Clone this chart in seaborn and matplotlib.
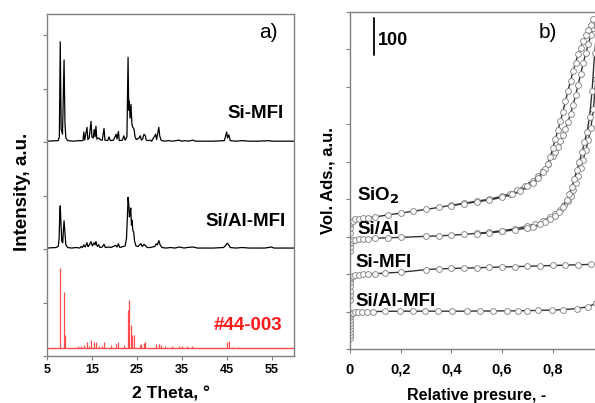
import numpy as np
import pandas as pd
import matplotlib
matplotlib.use("Agg")
import matplotlib.pyplot as plt
import seaborn as sns

# ---------------- Panel a data (2 theta, intensity above baseline) ----------------
si_mfi_2t = [5.0, 7.5, 7.75, 7.95, 8.15, 8.45, 8.8, 9.0, 9.2, 9.6, 11.0, 12.0, 13.0, 13.2, 13.4, 13.9, 14.1, 14.4,
             14.8, 15.0, 15.3, 15.5, 15.7, 15.9, 16.1, 16.5, 17.0, 17.3, 17.7, 17.9, 18.5, 18.8, 19.1, 19.8,
             20.4, 20.6, 20.9, 21.1, 21.8, 22.1, 22.4, 22.8, 23.05, 23.2, 23.3, 23.5, 23.7, 23.9, 24.0, 24.4,
             24.6, 24.9, 25.5, 25.8, 26.0, 26.3, 26.6, 26.9, 27.1, 27.5, 28.0, 28.3, 29.2, 29.4, 29.9, 30.1,
             30.4, 31.0, 32.0, 33.0, 34.4, 35.0, 35.7, 36.5, 37.5, 38.0, 40.0, 42.0, 44.5, 45.0, 45.2, 45.5,
             45.8, 47.0, 48.5, 50.0, 52.0, 54.5, 55.0, 57.0, 60.0]
si_mfi_int = [0.02, 0.03, 0.10, 1.88, 0.25, 0.15, 1.54, 0.35, 0.08, 0.03, 0.02, 0.03, 0.03, 0.19, 0.04, 0.28, 0.05, 0.08,
              0.39, 0.10, 0.08, 0.24, 0.10, 0.30, 0.06, 0.08, 0.04, 0.04, 0.26, 0.04, 0.03, 0.10, 0.03, 0.04,
              0.15, 0.06, 0.20, 0.03, 0.04, 0.12, 0.04, 0.10, 1.59, 0.60, 0.77, 0.45, 0.71, 0.35, 0.30, 0.24,
              0.10, 0.05, 0.08, 0.12, 0.04, 0.06, 0.15, 0.12, 0.04, 0.03, 0.04, 0.02, 0.15, 0.05, 0.28, 0.12,
              0.04, 0.02, 0.03, 0.02, 0.04, 0.02, 0.03, 0.02, 0.04, 0.02, 0.02, 0.02, 0.03, 0.19, 0.08, 0.14,
              0.03, 0.02, 0.03, 0.02, 0.02, 0.03, 0.02, 0.02, 0.02]

sial_mfi_2t = [5.0, 7.0, 7.5, 7.7, 7.85, 7.95, 8.1, 8.3, 8.5, 8.65, 8.8, 8.95, 9.2, 9.6, 10.5, 11.5, 12.3, 12.6,
               12.9, 13.2, 13.5, 13.9, 14.1, 14.3, 14.8, 15.1, 15.5, 15.7, 15.9, 16.2, 16.5, 16.8, 17.3, 17.7,
               18.0, 18.8, 19.2, 20.3, 20.6, 20.9, 21.2, 22.0, 22.4, 22.7, 22.9, 23.05, 23.2, 23.35, 23.5, 23.65,
               23.8, 23.95, 24.1, 24.3, 24.5, 24.8, 25.3, 25.6, 25.9, 26.2, 26.6, 26.9, 27.3, 28.0, 29.0, 29.3,
               29.6, 29.9, 30.2, 30.6, 31.5, 32.5, 33.5, 34.5, 35.5, 36.2, 37.5, 38.5, 40.0, 42.0, 44.3, 44.8,
               45.1, 45.4, 45.8, 47.0, 48.5, 50.0, 52.0, 53.5, 55.0, 55.5, 57.5, 60.0]
sial_mfi_int = [0.02, 0.03, 0.05, 0.20, 0.70, 0.81, 0.50, 0.15, 0.12, 0.35, 0.53, 0.35, 0.08, 0.03, 0.02, 0.03, 0.02, 0.05,
                0.03, 0.08, 0.04, 0.12, 0.05, 0.06, 0.14, 0.06, 0.12, 0.08, 0.14, 0.05, 0.08, 0.03, 0.04, 0.09,
                0.03, 0.04, 0.03, 0.07, 0.04, 0.10, 0.03, 0.05, 0.06, 0.20, 0.60, 0.97, 0.85, 0.60, 0.68, 0.77,
                0.45, 0.54, 0.35, 0.32, 0.15, 0.06, 0.05, 0.08, 0.10, 0.05, 0.09, 0.07, 0.03, 0.03, 0.05, 0.10,
                0.08, 0.16, 0.08, 0.03, 0.02, 0.03, 0.02, 0.04, 0.02, 0.03, 0.04, 0.02, 0.02, 0.02, 0.03, 0.07,
                0.11, 0.09, 0.03, 0.02, 0.03, 0.02, 0.02, 0.02, 0.04, 0.02, 0.02, 0.02]

ref_2t = [7.95, 8.85, 9.05, 11.9, 12.5, 13.2, 13.9, 14.3, 14.8, 15.5, 15.9, 16.5, 17.3, 17.8, 19.2, 20.4, 20.9,
          22.2, 23.1, 23.3, 23.7, 23.9, 24.4, 25.6, 25.9, 26.6, 26.9, 29.3, 29.9, 30.3, 31.2, 32.8, 34.4, 35.1,
          36.1, 37.2, 45.0, 45.5, 46.5, 47.5]
ref_int = [1.50, 1.05, 0.24, 0.03, 0.03, 0.06, 0.12, 0.04, 0.15, 0.11, 0.11, 0.04, 0.04, 0.11, 0.05, 0.07, 0.12,
           0.05, 0.71, 0.89, 0.43, 0.24, 0.24, 0.06, 0.07, 0.09, 0.12, 0.08, 0.08, 0.05, 0.03, 0.03, 0.03, 0.03,
           0.03, 0.03, 0.12, 0.13, 0.02, 0.02]

xrd_offsets = {"Si-MFI": 4.0, "Si/Al-MFI": 2.0, "#44-003": 0.15}
xrd_xticks = [5, 15, 25, 35, 45, 55]

# ---------------- Panel b data (relative pressure, volume adsorbed) ----------------
sio2_ads_p = [0, 0, 0, 0.005, 0.01, 0.02, 0.035, 0.05, 0.07, 0.1, 0.15, 0.2, 0.25, 0.3, 0.35, 0.4, 0.45, 0.5, 0.55,
              0.6, 0.63, 0.66, 0.69, 0.72, 0.74, 0.76, 0.78, 0.8, 0.81, 0.82, 0.83, 0.84, 0.85, 0.86, 0.87, 0.88,
              0.89, 0.9, 0.91, 0.92, 0.93, 0.94, 0.95, 0.96, 0.97]
sio2_ads_v = [309, 322, 334, 340, 343, 346, 348, 349, 351, 353, 358, 363, 368, 373, 378, 384, 389, 395, 400,
              408, 415, 424, 436, 450, 462, 476, 494, 515, 527, 540, 556, 572, 588, 606, 628, 652,
              678, 705, 735, 763, 790, 815, 838, 858, 876]
sio2_des_p = [0.96, 0.95, 0.94, 0.93, 0.92, 0.91, 0.9, 0.89, 0.88, 0.87, 0.86, 0.85, 0.84, 0.83, 0.82, 0.81, 0.8,
              0.79, 0.78, 0.77, 0.76, 0.74, 0.72, 0.7, 0.67, 0.64, 0.6, 0.55, 0.5, 0.45, 0.4]
sio2_des_v = [880, 866, 852, 838, 822, 805, 787, 765, 742, 716, 690, 662, 634, 608, 584, 560, 537,
              512, 495, 482, 472, 456, 444, 434, 422, 413, 405, 398, 393, 388, 383]

sial_ads_p = [0, 0, 0, 0.005, 0.01, 0.02, 0.035, 0.05, 0.07, 0.1, 0.15, 0.2, 0.3, 0.35, 0.4, 0.45, 0.5, 0.55, 0.6,
              0.65, 0.7, 0.73, 0.76, 0.79, 0.81, 0.83, 0.845, 0.86, 0.87, 0.88, 0.89, 0.9, 0.91, 0.92, 0.93,
              0.94, 0.95, 0.96, 0.97, 0.98]
sial_ads_v = [262, 272, 282, 287, 290, 292, 293, 294, 295, 296, 297, 298, 301, 302, 304, 306, 309, 312, 316,
              321, 328, 334, 342, 352, 361, 372, 384, 396, 408, 424, 442, 462, 484, 506, 531,
              558, 590, 640, 720, 820]
sial_des_p = [0.975, 0.965, 0.955, 0.945, 0.935, 0.925, 0.915, 0.905, 0.895, 0.885, 0.875, 0.865, 0.855, 0.84,
              0.825, 0.81, 0.79, 0.77, 0.75, 0.72, 0.7, 0.65, 0.6, 0.55, 0.5]
sial_des_v = [860, 790, 690, 620, 580, 552, 526, 500, 477, 455, 432, 414, 398, 380,
              366, 355, 346, 338, 333, 327, 323, 318, 314, 310, 308]

simfi_p = [0, 0, 0, 0, 0, 0, 0.002, 0.01, 0.02, 0.035, 0.05, 0.07, 0.1, 0.14, 0.2, 0.3, 0.35, 0.4, 0.45, 0.5,
           0.55, 0.6, 0.65, 0.7, 0.75, 0.8, 0.85, 0.9, 0.95, 0.99]
simfi_v = [131, 143, 155, 167, 178, 188, 193, 196, 197, 198, 199, 200, 201, 203, 205, 212, 214, 215, 216, 217,
           218, 219, 220, 221, 222, 223, 224, 225, 226, 227]

sialmfi_p = [0, 0, 0, 0, 0, 0, 0, 0, 0.001, 0.005, 0.01, 0.02, 0.03, 0.047, 0.067, 0.09, 0.138, 0.197, 0.25,
             0.296, 0.347, 0.402, 0.46, 0.513, 0.564, 0.619, 0.662, 0.698, 0.742, 0.797, 0.84, 0.895, 0.939,
             0.97, 0.99]
sialmfi_v = [29, 37, 45, 53, 61, 69, 77, 85, 92, 95, 97, 98, 99, 99.5, 100, 100, 100.5, 101, 101,
             101, 101, 101, 101, 101.5, 101.5, 102, 102, 102.5, 103, 104, 105, 108, 113,
             122, 140]

iso_xticks = [0, 0.2, 0.4, 0.6, 0.8, 1.0]
iso_xticklabels = ["0", "0,2", "0,4", "0,6", "0,8", ""]

# ---------------- Style ----------------
sns.set_theme(style="white")
plt.rcParams["font.family"] = ["Liberation Sans", "DejaVu Sans"]
plt.rcParams["font.weight"] = "bold"
plt.rcParams["text.color"] = "black"
plt.rcParams["axes.labelcolor"] = "black"
plt.rcParams["xtick.color"] = "black"
plt.rcParams["ytick.color"] = "black"
spine_col = "#808080"

fig = plt.figure(figsize=(5.95, 4.03), dpi=100)
axa = fig.add_axes([47 / 595, 1 - 356 / 403, 247 / 595, 342 / 403])
axb = fig.add_axes([350 / 595, 1 - 349 / 403, 253.5 / 595, 337 / 403])

# ---- panel a ----
for name, xs, ys in [("Si-MFI", si_mfi_2t, si_mfi_int), ("Si/Al-MFI", sial_mfi_2t, sial_mfi_int)]:
    df = pd.DataFrame({"2t": xs, "I": np.array(ys) + xrd_offsets[name]})
    sns.lineplot(data=df, x="2t", y="I", ax=axa, color="black", lw=0.9, sort=False, estimator=None)

base = xrd_offsets["#44-003"]
axa.vlines(ref_2t, base, base + np.array(ref_int), color="#ff4d4d", lw=0.9)
axa.axhline(base, color="#ff4d4d", lw=1.0)

axa.set_xlim(5, 60)
axa.set_ylim(0, 6.4)
axa.set_xticks(xrd_xticks)
axa.set_xticklabels([str(t) for t in xrd_xticks], fontsize=9, fontweight="bold")
axa.set_yticks([0, 1, 2, 3, 4, 5, 6])
axa.set_yticklabels([])
axa.set_xlabel("2 Theta, \u00b0", fontsize=12.5, fontweight="bold", labelpad=7)
axa.set_ylabel("Intensity, a.u.", fontsize=13.5, fontweight="bold", labelpad=3)
axa.yaxis.set_label_coords(-0.065, 0.48)
axa.text(0.895, 0.947, "a)", transform=axa.transAxes, ha="center", va="center", fontsize=15, fontweight="normal")
axa.text(0.96, 0.71, "Si-MFI", transform=axa.transAxes, ha="right", va="center", fontsize=13.5, fontweight="bold")
axa.text(0.968, 0.392, "Si/Al-MFI", transform=axa.transAxes, ha="right", va="center", fontsize=13.5,
         fontweight="bold")
axa.text(0.951, 0.088, "#44-003", transform=axa.transAxes, ha="right", va="center", fontsize=13.5,
         fontweight="bold", color="#ff1a1a")

# ---- panel b ----
iso_sets = [(sio2_ads_p, sio2_ads_v), (sio2_des_p, sio2_des_v), (sial_ads_p, sial_ads_v), (sial_des_p, sial_des_v),
            (simfi_p, simfi_v), (sialmfi_p, sialmfi_v)]
for ps, vs in iso_sets:
    df = pd.DataFrame({"p": ps, "v": vs})
    sns.lineplot(data=df, x="p", y="v", ax=axb, color="#333333", lw=1.0, sort=False, estimator=None,
                 marker="o", markersize=4.2, markerfacecolor="white", markeredgecolor="#8c8c8c",
                 markeredgewidth=0.7)

axb.set_xlim(0, 1.0)
axb.set_ylim(0, 900)
axb.set_xticks(iso_xticks)
axb.set_xticklabels(iso_xticklabels, fontsize=10.5, fontweight="bold")
axb.set_yticks(np.arange(0, 901, 100))
axb.set_yticklabels([])
axb.set_xlabel("Relative presure, -", fontsize=11.5, fontweight="bold", labelpad=8)
axb.set_ylabel("Vol. Ads., a.u.", fontsize=12, fontweight="bold", labelpad=4)
axb.plot([0.095, 0.095], [785, 885], color="black", lw=1.3)
axb.text(0.11, 824, "100", ha="left", va="center", fontsize=13, fontweight="bold")
axb.text(0.781, 0.938, "b)", transform=axb.transAxes, ha="center", va="center", fontsize=15, fontweight="normal")
axb.text(0.028, 410, "SiO$_\\mathbf{2}$", ha="left", va="center", fontsize=13.5, fontweight="bold")
axb.text(0.028, 320, "Si/Al", ha="left", va="center", fontsize=13.5, fontweight="bold")
axb.text(0.02, 232, "Si-MFI", ha="left", va="center", fontsize=13.5, fontweight="bold")
axb.text(0.02, 128, "Si/Al-MFI", ha="left", va="center", fontsize=13.5, fontweight="bold")

for ax in (axa, axb):
    for sp in ax.spines.values():
        sp.set_color(spine_col)
        sp.set_linewidth(1.0)
        sp.set_visible(True)
    ax.tick_params(axis="both", direction="out", length=3, width=0.8, color=spine_col,
                   bottom=True, left=True, labelcolor="black")
axa.tick_params(axis="x", pad=3)
axb.tick_params(axis="x", pad=7)

fig.savefig("out.png", dpi=100)
